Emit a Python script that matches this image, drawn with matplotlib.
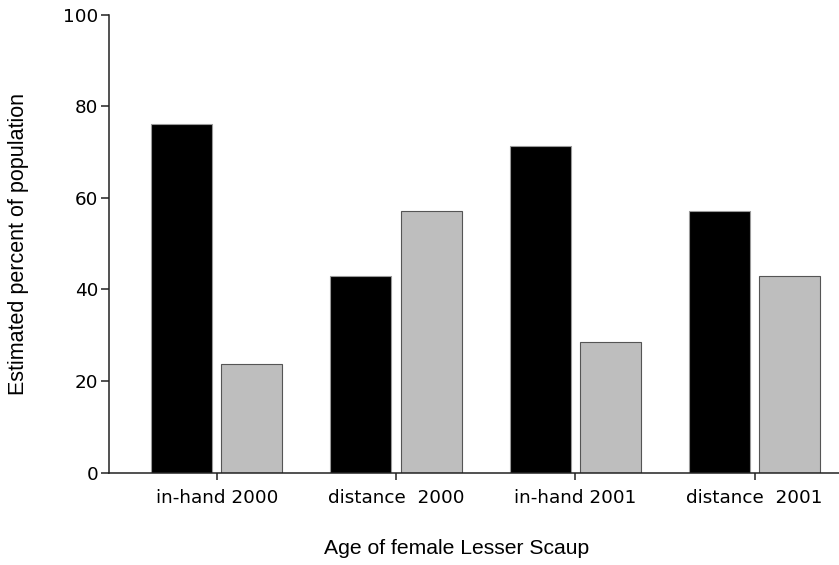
import numpy as np
import matplotlib.pyplot as plt

# groups on the x axis and the two bar series
groups = ["in-hand 2000", "distance  2000", "in-hand 2001", "distance  2001"]
black_vals = [76.2, 42.9, 71.4, 57.1]
gray_vals = [23.8, 57.1, 28.6, 42.9]
y_ticks = [0, 20, 40, 60, 80, 100]

fig = plt.figure(figsize=(8.39, 5.65), dpi=100)
ax = fig.add_axes([0.1303, 0.1634, 0.8697, 0.8106])

x = np.arange(len(groups))
w = 0.34
off = 0.196
ax.bar(x - off, black_vals, width=w, color="black", edgecolor="#9a9a9a", linewidth=0.8)
ax.bar(x + off, gray_vals, width=w, color="#bebebe", edgecolor="#555555", linewidth=0.8)

ax.set_xlim(-0.599, 3.471)
ax.set_ylim(0, 100)
ax.set_yticks(y_ticks)
ax.set_xticks(x)
ax.set_xticklabels(groups)

for s in ["top", "right"]:
    ax.spines[s].set_visible(False)
for s in ["left", "bottom"]:
    ax.spines[s].set_linewidth(1.1)
    ax.spines[s].set_color("#222222")

ax.tick_params(axis="y", length=6, width=1.1, pad=2, labelsize=13.2, colors="#222222", labelcolor="black")
ax.tick_params(axis="x", length=5, width=1.1, pad=7, labelsize=13.2, colors="#222222", labelcolor="black")

ax.set_xlabel("Age of female Lesser Scaup", family="Liberation Sans", fontsize=15.2, va="center")
ax.xaxis.set_label_coords(0.4765, -0.1666)
ax.set_ylabel("Estimated percent of population", family="Liberation Sans", fontsize=15.5, va="center")
ax.yaxis.set_label_coords(-0.125, 0.5)

fig.savefig("out.png", dpi=100)
